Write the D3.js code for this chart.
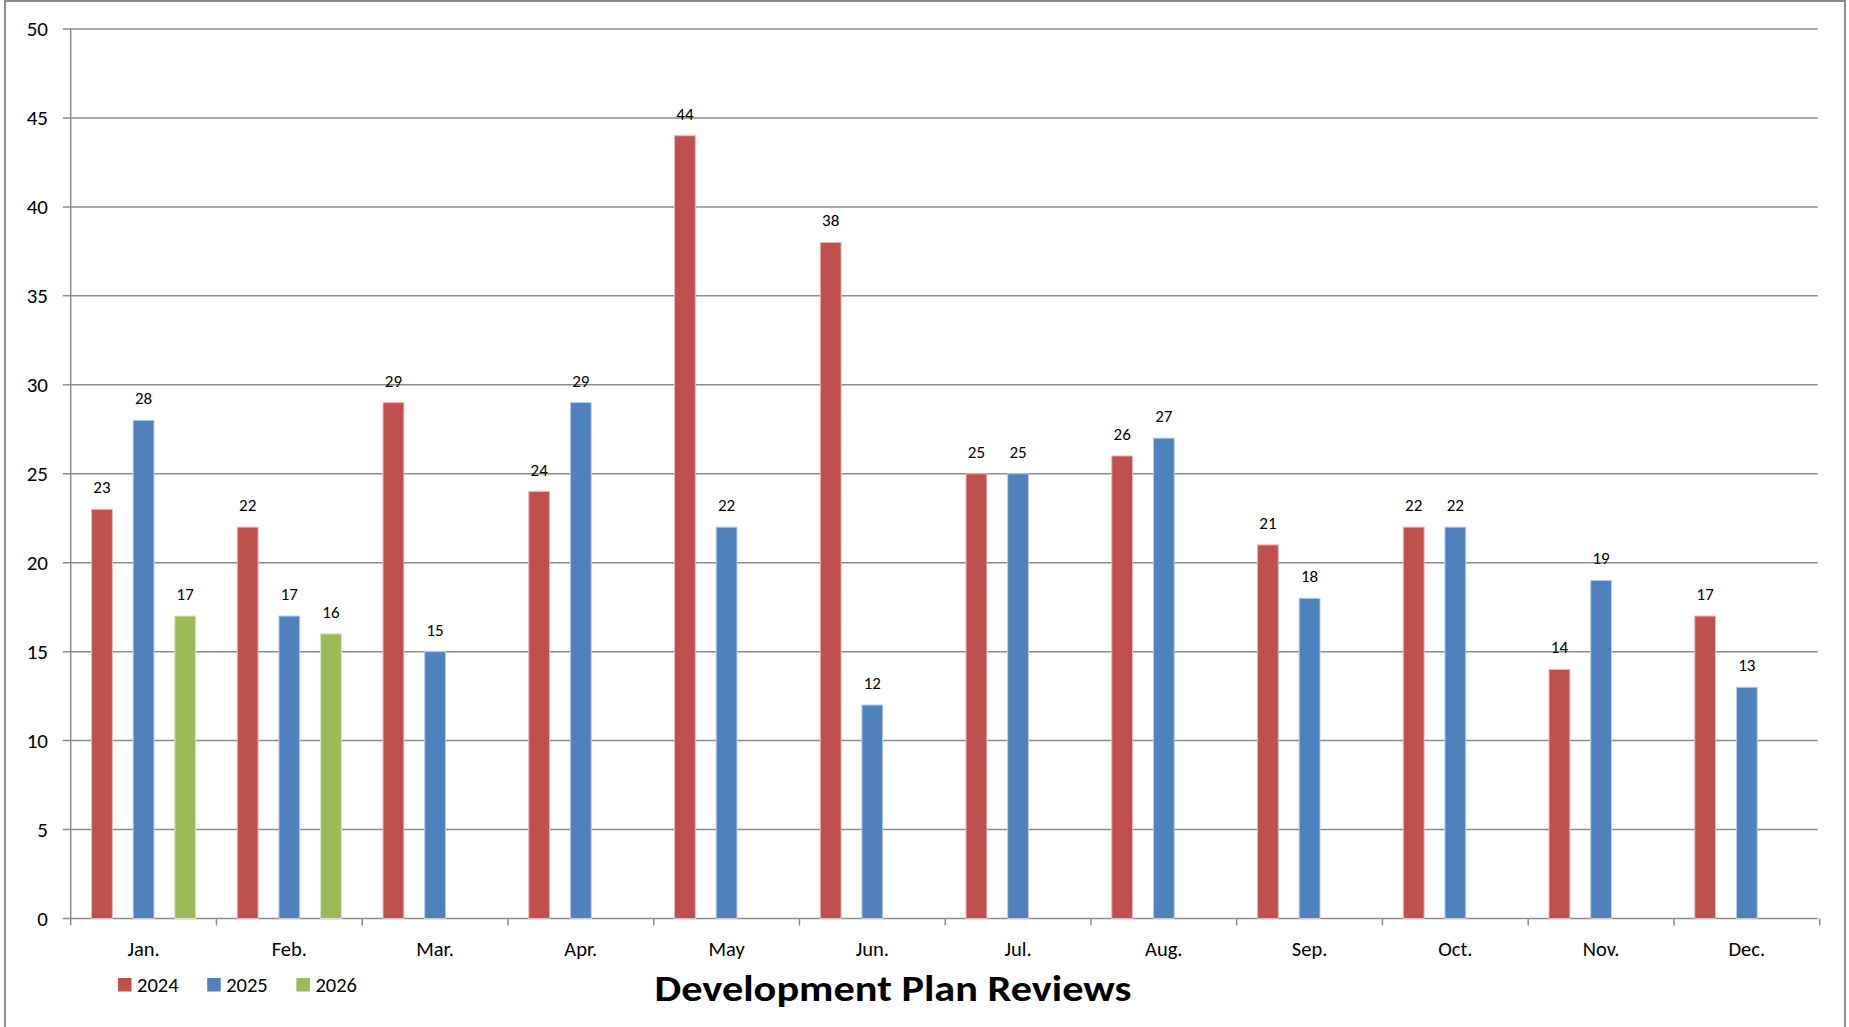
<!DOCTYPE html>
<html>
<head>
<meta charset="utf-8">
<script src="https://cdn.jsdelivr.net/npm/d3@7"></script>
<style>
  body { margin: 0; background: #fff; }
  svg text { font-family: Carlito, Calibri, Lato, sans-serif; fill: #000; }
</style>
</head>
<body>
<div id="chart"></div>
<script>
const months = ["Jan.", "Feb.", "Mar.", "Apr.", "May", "Jun.", "Jul.", "Aug.", "Sep.", "Oct.", "Nov.", "Dec."];
const seriesNames = ["2024", "2025", "2026"];
const values2024 = [23, 22, 29, 24, 44, 38, 25, 26, 21, 22, 14, 17];
const values2025 = [28, 17, 15, 29, 22, 12, 25, 27, 18, 22, 19, 13];
const values2026 = [17, 16, null, null, null, null, null, null, null, null, null, null];
const yTicks = [0, 5, 10, 15, 20, 25, 30, 35, 40, 45, 50];
const colors = ["#C0504D", "#4F81BD", "#9BBB59"];
const strokes = ["#E6B9B8", "#B9CDE5", "#D7E4BD"];

const width = 1849, height = 1027;
const svg = d3.select("#chart").append("svg").attr("width", width).attr("height", height);

// outer chart border
svg.append("rect").attr("x", 5).attr("y", 1).attr("width", 1840).attr("height", 1040)
  .attr("fill", "none").attr("stroke", "#8c8c8c").attr("stroke-width", 2);

const plotLeft = 70.7, plotRight = 1819.7, plotTop = 29, plotBottom = 918.5;

const x = d3.scaleBand().domain(months).range([plotLeft, plotRight]);
const y = d3.scaleLinear().domain([0, 50]).range([plotBottom, plotTop]);
const barW = x.bandwidth() / 7;

// gridlines
svg.append("g").selectAll("line").data(yTicks).enter().append("line")
  .attr("x1", plotLeft - 8).attr("x2", plotRight - 2)
  .attr("y1", d => y(d)).attr("y2", d => y(d))
  .attr("stroke", "#8c8c8c").attr("stroke-width", 1.5);

// y labels
svg.append("g").selectAll("text").data(yTicks).enter().append("text")
  .attr("x", 48).attr("y", d => y(d)).attr("dy", "0.35em")
  .attr("text-anchor", "end").attr("font-size", 21).text(d => d);

// y axis line
svg.append("line").attr("x1", plotLeft).attr("x2", plotLeft)
  .attr("y1", plotTop).attr("y2", plotBottom)
  .attr("stroke", "#8c8c8c").attr("stroke-width", 1.5);

// x axis ticks between categories
const tickPos = months.map(m => x(m)).concat([plotRight]);
svg.append("g").selectAll("line").data(tickPos).enter().append("line")
  .attr("x1", d => d).attr("x2", d => d)
  .attr("y1", plotBottom).attr("y2", plotBottom + 7)
  .attr("stroke", "#8c8c8c").attr("stroke-width", 1.5);

// x labels
svg.append("g").selectAll("text").data(months).enter().append("text")
  .attr("x", d => x(d) + x.bandwidth() / 2).attr("y", 956)
  .attr("text-anchor", "middle").attr("font-size", 20.5).text(d => d);

// bars
const allSeries = [values2024, values2025, values2026];
allSeries.forEach((vals, si) => {
  const data = vals.map((v, i) => ({ m: months[i], v: v })).filter(d => d.v != null);
  const g = svg.append("g");
  g.selectAll("rect").data(data).enter().append("rect")
    .attr("x", d => x(d.m) + barW * (1 + 2 * si))
    .attr("y", d => y(d.v))
    .attr("width", barW)
    .attr("height", d => y(0) - y(d.v))
    .attr("fill", colors[si])
    .attr("stroke", strokes[si]).attr("stroke-width", 1);
  g.selectAll("text").data(data).enter().append("text")
    .attr("x", d => x(d.m) + barW * (1.5 + 2 * si))
    .attr("y", d => y(d.v) - 16)
    .attr("text-anchor", "middle").attr("font-size", 17).text(d => d.v);
});

// legend
const legend = svg.append("g").attr("transform", "translate(118,978)");
seriesNames.forEach((s, i) => {
  legend.append("rect").attr("x", i * 89.2).attr("y", 0).attr("width", 13.5).attr("height", 13.5)
    .attr("fill", colors[i]);
  legend.append("text").attr("x", i * 89.2 + 19).attr("y", 14).attr("font-size", 20.5).text(s);
});

// title
svg.append("text").attr("x", 893).attr("y", 1001).attr("text-anchor", "middle")
  .attr("font-size", 37).attr("font-weight", "bold")
  .attr("textLength", 477).attr("lengthAdjust", "spacingAndGlyphs")
  .text("Development Plan Reviews");
</script>
</body>
</html>
